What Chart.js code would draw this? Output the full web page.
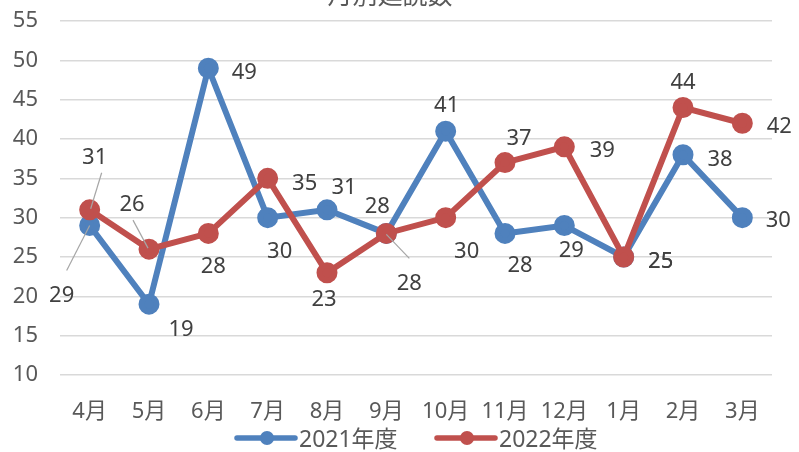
<!DOCTYPE html>
<html>
<head>
<meta charset="utf-8">
<script src="https://cdn.jsdelivr.net/npm/chart.js@4"></script>
<style>
  html, body { margin: 0; padding: 0; background: #fff; }
  #wrap { width: 799px; height: 452px; }
</style>
</head>
<body>
<div id="wrap"><canvas id="myChart" width="799" height="452"></canvas></div>
<script>
const months = ['4月', '5月', '6月', '7月', '8月', '9月', '10月', '11月', '12月', '1月', '2月', '3月'];
const fy2021 = [29, 19, 49, 30, 31, 28, 41, 28, 29, 25, 38, 30];
const fy2022 = [31, 26, 28, 35, 23, 28, 30, 37, 39, 25, 44, 42];
const seriesNames = ['2021年度', '2022年度'];
const chartTitle = '月別延読数';

const BLUE = '#4f81bd';
const RED = '#c0504d';
const FONT = "'Noto Sans', 'Noto Sans CJK JP', sans-serif";

// label offsets from the point (px), like the Excel data label placement
const labelOffsets = [
  [[-28, 67], [32, 23], [36, 2], [12, 31], [17, -25], [-9, -30], [1, -28], [15, 29], [7, 22], [37, 2], [37, 2], [36, 0]],
  [[5, -55], [-17, -47], [5, 30], [37, 2], [-3, 24], [23, 47], [21, 31], [14, -27], [38, 1], [37, 2], [0, -28], [37, 0]],
];
// leader lines: [dataset, index, from dx, dy, to dx, dy] relative to point
const leaders = [
  [0, 0, 0, 0, -23, 45],
  [1, 0, 1, -1, 12, -37],
  [1, 1, -1, -1, -16, -29],
  [1, 5, 0, 1, 23, 25],
];

const labelsPlugin = {
  id: 'excelLabels',
  afterDatasetsDraw(chart) {
    const ctx = chart.ctx;
    ctx.save();
    ctx.strokeStyle = '#a6a6a6';
    ctx.lineWidth = 1.2;
    leaders.forEach(([d, i, x1, y1, x2, y2]) => {
      const el = chart.getDatasetMeta(d).data[i];
      ctx.beginPath();
      ctx.moveTo(el.x + x1, el.y + y1);
      ctx.lineTo(el.x + x2, el.y + y2);
      ctx.stroke();
    });
    ctx.font = '22px ' + FONT;
    ctx.fillStyle = '#404040';
    ctx.textAlign = 'center';
    ctx.textBaseline = 'middle';
    chart.data.datasets.forEach((ds, d) => {
      chart.getDatasetMeta(d).data.forEach((el, i) => {
        const off = labelOffsets[d][i];
        ctx.fillText(String(ds.data[i]), el.x + off[0], el.y + off[1] + 3);
      });
    });
    ctx.restore();
  },
  afterDraw(chart) {
    const ctx = chart.ctx;
    ctx.save();
    // title, mostly cut off at the top edge
    ctx.font = '25px ' + FONT;
    ctx.fillStyle = '#595959';
    ctx.textAlign = 'center';
    ctx.textBaseline = 'alphabetic';
    ctx.fillText(chartTitle, 390, 4);
    // legend
    const items = [[237, BLUE, seriesNames[0]], [437, RED, seriesNames[1]]];
    ctx.font = '23px ' + FONT;
    ctx.textAlign = 'left';
    ctx.textBaseline = 'middle';
    items.forEach(([x, color, name]) => {
      ctx.strokeStyle = color;
      ctx.lineWidth = 5.5;
      ctx.lineCap = 'round';
      ctx.beginPath();
      ctx.moveTo(x, 438);
      ctx.lineTo(x + 58, 438);
      ctx.stroke();
      ctx.fillStyle = color;
      ctx.beginPath();
      ctx.arc(x + 30, 438, 7, 0, Math.PI * 2);
      ctx.fill();
      ctx.fillStyle = '#595959';
      ctx.fillText(name, x + 62, 440);
    });
    ctx.restore();
  },
};

const ctx = document.getElementById('myChart').getContext('2d');
new Chart(ctx, {
  type: 'line',
  data: {
    labels: months,
    datasets: [
      {
        label: seriesNames[0],
        data: fy2021,
        borderColor: BLUE,
        backgroundColor: BLUE,
        pointBackgroundColor: BLUE,
        pointBorderColor: BLUE,
        borderWidth: 6,
        pointRadius: 7.5,
        tension: 0,
        order: 1,
      },
      {
        label: seriesNames[1],
        data: fy2022,
        borderColor: RED,
        backgroundColor: RED,
        pointBackgroundColor: RED,
        pointBorderColor: RED,
        borderWidth: 6,
        pointRadius: 7.5,
        tension: 0,
        order: 0,
      },
    ],
  },
  options: {
    responsive: false,
    animation: false,
    layout: { padding: { top: 21, right: 27, left: 0, bottom: 0 } },
    plugins: {
      legend: { display: false },
      title: { display: false },
      tooltip: { enabled: false },
    },
    scales: {
      x: {
        offset: true,
        grid: { display: false, drawTicks: false },
        border: { display: false },
        ticks: { font: { family: FONT, size: 22 }, color: '#595959', padding: 24 },
        afterFit(scale) { scale.height = 77; },
      },
      y: {
        min: 10,
        max: 55,
        ticks: { stepSize: 5, font: { family: FONT, size: 22 }, color: '#595959', padding: 0 },
        grid: { color: '#d9d9d9', lineWidth: 1.5, drawTicks: true, tickLength: 22, tickColor: 'rgba(0,0,0,0)' },
        border: { display: false },
        afterFit(scale) { scale.width = 60; },
      },
    },
  },
  plugins: [labelsPlugin],
});
</script>
</body>
</html>
